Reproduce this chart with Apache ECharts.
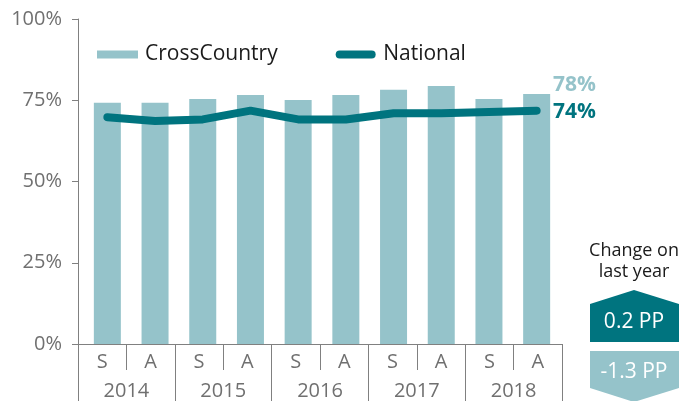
<!DOCTYPE html>
<html><head><meta charset="utf-8">
<script src="https://cdn.jsdelivr.net/npm/echarts@6/dist/echarts.min.js"></script>
<style>html,body{margin:0;padding:0;background:#fff}#c{width:699px;height:401px}</style>
</head><body><div id="c"></div>
<script>
var halves = ['S','A','S','A','S','A','S','A','S','A'];
var years = ['2014','2015','2016','2017','2018'];
var crossCountry = [74.2, 74.2, 75.4, 76.6, 75.1, 76.6, 78.2, 79.4, 75.4, 76.9];
var national = [69.8, 68.6, 69.1, 71.8, 69.1, 69.1, 71.0, 71.0, 71.4, 71.8];
var endLabels = ['78%', '74%'];
var changeTitle = ['Change on', 'last year'];
var changeValues = ['0.2 PP', '-1.3 PP'];

var LIGHT = '#95c3ca', DARK = '#00747f', AX = '#808080', LAB = '#707070';
var FF = '"Open Sans", sans-serif';
var chart = echarts.init(document.getElementById('c'), null, {renderer: 'canvas'});
var option = {
  animation: false,
  textStyle: {fontFamily: FF},
  grid: [
    {left: 83.5, width: 477, top: 19, height: 325},
    {left: 78, width: 484, top: 19, height: 325},
    {left: 78, width: 484, top: 19, height: 325}
  ],
  legend: {
    left: 97, top: 44, padding: 0, itemGap: 58, itemWidth: 41, itemHeight: 8,
    textStyle: {fontFamily: FF, fontSize: 21, color: '#1a1a1a', padding: [0,0,0,2]},
    data: [
      {name: 'CrossCountry', icon: 'rect'},
      {name: 'National', icon: 'path://M4,0 L36,0 A4,4 0 0 1 36,8 L4,8 A4,4 0 0 1 4,0 Z'}
    ]
  },
  xAxis: [
    {type: 'category', gridIndex: 0, data: halves, show: false},
    {type: 'category', gridIndex: 1, data: halves, position: 'bottom',
     axisLine: {lineStyle: {color: AX, width: 1}},
     axisTick: {show: true, interval: 0, length: 26, lineStyle: {color: AX}},
     axisLabel: {color: LAB, fontSize: 20, fontFamily: FF, margin: 8, interval: 0}},
    {type: 'category', gridIndex: 2, data: years, position: 'bottom',
     axisLine: {show: false},
     axisTick: {show: true, interval: 0, length: 60, lineStyle: {color: AX}},
     axisLabel: {color: LAB, fontSize: 20, fontFamily: FF, margin: 37, interval: 0}}
  ],
  yAxis: [
    {type: 'value', gridIndex: 0, min: 0, max: 100, interval: 25, show: false},
    {type: 'value', gridIndex: 1, min: 0, max: 100, interval: 25,
     axisLine: {show: true, lineStyle: {color: AX}},
     axisTick: {show: true, length: 6, lineStyle: {color: AX}},
     splitLine: {show: false},
     axisLabel: {color: LAB, fontSize: 20, fontFamily: FF, margin: 16, formatter: '{value}%'}},
    {type: 'value', gridIndex: 2, min: 0, max: 100, show: false}
  ],
  series: [
    {name: 'CrossCountry', type: 'bar', xAxisIndex: 0, yAxisIndex: 0, data: crossCountry,
     barWidth: 27, itemStyle: {color: LIGHT}},
    {name: 'National', type: 'line', xAxisIndex: 0, yAxisIndex: 0, data: national,
     showSymbol: false, symbol: 'none', itemStyle: {color: DARK},
     lineStyle: {color: DARK, width: 8, cap: 'round', join: 'round'}}
  ],
  graphic: [
    {type: 'text', left: 553, top: 75, style: {text: endLabels[0], fill: LIGHT, font: 'bold 21px ' + FF}},
    {type: 'text', left: 553, top: 102, style: {text: endLabels[1], fill: DARK, font: 'bold 21px ' + FF}},
    {type: 'text', x: 634, y: 251, style: {text: changeTitle[0], fill: '#1a1a1a', font: '18px ' + FF, textAlign: 'center', textVerticalAlign: 'middle'}},
    {type: 'text', x: 634, y: 272, style: {text: changeTitle[1], fill: '#1a1a1a', font: '18px ' + FF, textAlign: 'center', textVerticalAlign: 'middle'}},
    {type: 'polygon', shape: {points: [[590,304],[634,290],[679,304],[679,342],[590,342]]}, style: {fill: DARK}},
    {type: 'polygon', shape: {points: [[590,351],[679,351],[679,388],[634,402],[590,388]]}, style: {fill: LIGHT}},
    {type: 'text', x: 634, y: 322, style: {text: changeValues[0], fill: '#fff', font: '21px ' + FF, textAlign: 'center', textVerticalAlign: 'middle'}},
    {type: 'text', x: 634, y: 372, style: {text: changeValues[1], fill: '#fff', font: '21px ' + FF, textAlign: 'center', textVerticalAlign: 'middle'}}
  ]
};
chart.setOption(option);
</script></body></html>
